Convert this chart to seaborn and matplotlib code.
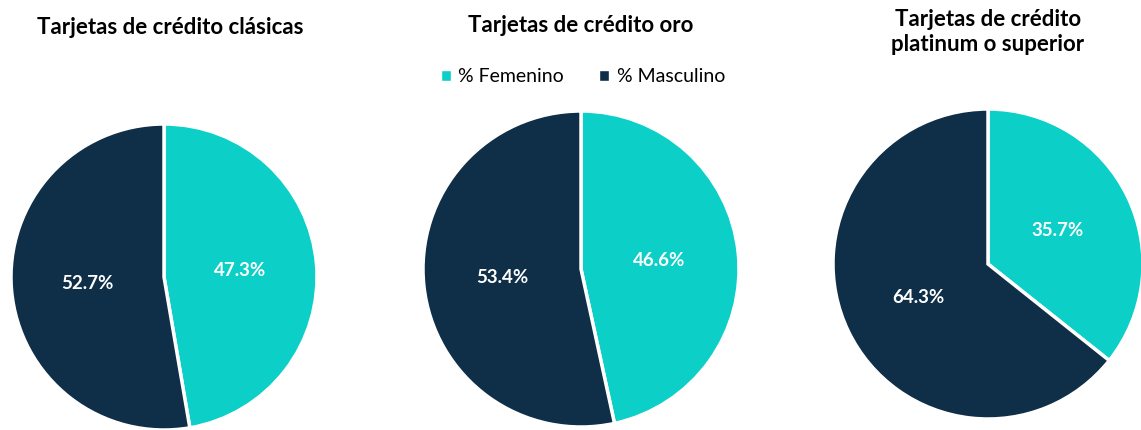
import matplotlib
matplotlib.use("Agg")
import matplotlib.pyplot as plt
import seaborn as sns
from matplotlib.patches import Patch

sns.set_theme(style="white")
plt.rcParams['font.family'] = ['Lato', 'DejaVu Sans']
plt.rcParams['text.color'] = 'black'

# data
categorias = ["% Femenino", "% Masculino"]
titulos = ["Tarjetas de crédito clásicas", "Tarjetas de crédito oro",
           "Tarjetas de crédito\nplatinum o superior"]
clasicas = [47.3, 52.7]
oro = [46.6, 53.4]
platinum = [35.7, 64.3]
colores = ["#0ccfc7", "#0f2e48"]

W, H = 1141, 430
fig = plt.figure(figsize=(W / 100, H / 100), dpi=100)

# pixel centre (x, y from top) and radius of each pie
pies = [(clasicas, 164, 277, 153), (oro, 581, 269, 158), (platinum, 988, 264, 155)]
for vals, cx, cy, r in pies:
    ax = fig.add_axes([(cx - r) / W, (H - cy - r) / H, 2 * r / W, 2 * r / H])
    wedges, _, autotexts = ax.pie(vals, colors=colores, startangle=90, counterclock=False,
                                  autopct="%.1f%%", pctdistance=0.5, radius=1,
                                  wedgeprops=dict(edgecolor="white", linewidth=2.5))
    for t in autotexts:
        t.set_color("white")
        t.set_fontweight("bold")
        t.set_fontsize(13.5)
    ax.set_xlim(-1, 1)
    ax.set_ylim(-1, 1)
    ax.set_aspect("equal")
    ax.axis("off")

# titles
fig.text(170 / W, 1 - 27 / H, titulos[0], ha="center", va="center", fontsize=16, fontweight="bold")
fig.text(581 / W, 1 - 25 / H, titulos[1], ha="center", va="center", fontsize=16, fontweight="bold")
fig.text(988 / W, 1 - 32 / H, titulos[2], ha="center", va="center", fontsize=16, fontweight="bold",
         linespacing=1.2)

handles = [Patch(facecolor=c, label=l) for c, l in zip(colores, categorias)]
fig.legend(handles=handles, loc="center", bbox_to_anchor=(583 / W, 1 - 77 / H), ncol=2,
           frameon=False, fontsize=14, handlelength=0.5, handleheight=0.5,
           handletextpad=0.4, columnspacing=1.8)

fig.savefig("out.png", dpi=100)
